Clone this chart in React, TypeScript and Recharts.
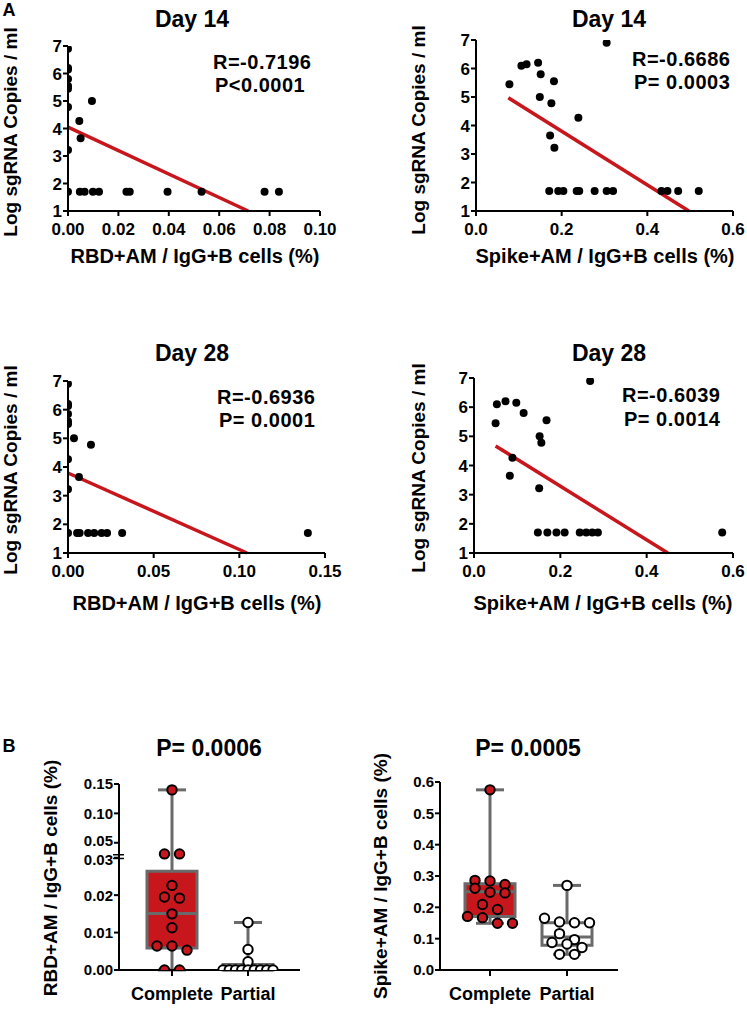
import React from 'react';
import { ScatterChart, ComposedChart, Scatter, XAxis, YAxis, ReferenceLine, ReferenceArea } from 'recharts';

const FONT = '"Liberation Sans", Arial, Helvetica, sans-serif';
const RED = '#c8161d';
const GREY = '#6a6a6a';

// A: log sgRNA vs antigen-specific memory B cells
const logTicks = [1, 2, 3, 4, 5, 6, 7];

const d14RbdX = [0, 0, 0, 0, 0, 0, 0, 0, 0, 0.0045, 0.005, 0.0095, 0.0047, 0.0066, 0.0099, 0.0123, 0.0232, 0.0245, 0.0395, 0.053, 0.078, 0.0837];
const d14RbdY = [6.9, 6.2, 6.15, 5.8, 5.55, 5.45, 4.78, 3.22, 1.7, 4.27, 3.65, 5.0, 1.7, 1.7, 1.7, 1.7, 1.7, 1.7, 1.7, 1.7, 1.7, 1.7];
const d14RbdFit = [{ x: 0, y: 4.05 }, { x: 0.0715, y: 1 }];

const d14SpikeX = [0.078, 0.106, 0.118, 0.145, 0.151, 0.149, 0.176, 0.182, 0.173, 0.183, 0.239, 0.305, 0.171, 0.192, 0.204, 0.235, 0.241, 0.277, 0.305, 0.32, 0.433, 0.447, 0.472, 0.52];
const d14SpikeY = [5.45, 6.1, 6.15, 6.2, 5.8, 5.0, 4.78, 5.55, 3.65, 3.22, 4.27, 6.9, 1.7, 1.7, 1.7, 1.7, 1.7, 1.7, 1.7, 1.7, 1.7, 1.7, 1.7, 1.7];
const d14SpikeFit = [{ x: 0.0754, y: 4.97 }, { x: 0.497, y: 1 }];

const d28RbdX = [0, 0, 0, 0, 0, 0, 0, 0, 0, 0.0035, 0.0134, 0.0064, 0.0053, 0.0068, 0.0117, 0.0153, 0.0196, 0.0228, 0.0316, 0.14];
const d28RbdY = [6.9, 6.2, 6.13, 5.85, 5.6, 5.5, 4.27, 3.22, 1.7, 5.0, 4.78, 3.65, 1.7, 1.7, 1.7, 1.7, 1.7, 1.7, 1.7, 1.7];
const d28RbdFit = [{ x: 0, y: 3.79 }, { x: 0.1045, y: 1 }];

const d28SpikeX = [0.05, 0.053, 0.073, 0.098, 0.115, 0.168, 0.152, 0.156, 0.089, 0.083, 0.151, 0.269, 0.148, 0.17, 0.191, 0.21, 0.245, 0.26, 0.274, 0.287, 0.575];
const d28SpikeY = [5.45, 6.1, 6.2, 6.15, 5.8, 5.55, 5.0, 4.78, 4.27, 3.65, 3.22, 6.9, 1.7, 1.7, 1.7, 1.7, 1.7, 1.7, 1.7, 1.7, 1.7];
const d28SpikeFit = [{ x: 0.05, y: 4.67 }, { x: 0.449, y: 1 }];

// B: complete vs partial protection
const groupNames = ['Complete', 'Partial'];
const rbdComplete = [0.14, 0.031, 0.031, 0.0226, 0.0192, 0.0195, 0.015, 0.0113, 0.0064, 0.0064, 0.0053, 0, 0];
const rbdPartial = [0.0127, 0.0055, 0.0022, 0, 0, 0, 0, 0, 0, 0, 0, 0];
const rbdCompleteBox = { min: 0, q1: 0.0059, med: 0.0151, q3: 0.0264, max: 0.14 };
const rbdPartialBox = { min: 0, q1: 0, med: 0, q3: 0.0015, max: 0.0127 };
const rbdTicks = [0, 0.01, 0.02, 0.03, 0.05, 0.1, 0.15];

const spikeComplete = [0.575, 0.286, 0.284, 0.273, 0.261, 0.248, 0.246, 0.209, 0.193, 0.171, 0.167, 0.149, 0.149];
const spikePartial = [0.27, 0.165, 0.153, 0.151, 0.151, 0.116, 0.097, 0.088, 0.083, 0.072, 0.05, 0.05];
const spikeCompleteBox = { min: 0.149, q1: 0.171, med: 0.25, q3: 0.275, max: 0.575 };
const spikePartialBox = { min: 0.05, q1: 0.079, med: 0.105, q3: 0.151, max: 0.27 };
const spikeTicks = [0, 0.1, 0.2, 0.3, 0.4, 0.5, 0.6];

// broken y axis: 0-0.03 linear, then 0.05-0.15 compressed
const brk = (v: number) => (v <= 0.03 ? v * 100 : 3.4 + ((v - 0.05) / 0.05) * 0.785);
const ident = (v: number) => v;

const axisStyle = { stroke: '#000', strokeWidth: 2 };

const xTick = (fmt: (v: number) => string, size: number) => (p: any) => (
  <text x={p.x} y={p.y} dy="0.72em" textAnchor="middle" fontSize={size} fontWeight={700} fill="#000" fontFamily={FONT}>
    {fmt(p.payload.value)}
  </text>
);
// nudge: pushes a couple of crowded labels (either side of the axis break) apart
const yTick = (fmt: (v: number) => string, size: number, nudge: Record<string, number> = {}) => (p: any) => {
  const s = fmt(p.payload.value);
  return (
    <text x={p.x} y={p.y + (nudge[s] || 0)} dy="0.36em" textAnchor="end" fontSize={size} fontWeight={700} fill="#000" fontFamily={FONT}>
      {s}
    </text>
  );
};

const Txt = ({ x, y, size, children, left, rot, ls }: any) => (
  <div
    style={{
      position: 'absolute', left: x, top: y, fontSize: size, fontWeight: 700, lineHeight: 1, letterSpacing: ls,
      whiteSpace: 'nowrap', transform: left ? 'translate(0,-50%)' : `translate(-50%,-50%)${rot ? ' rotate(-90deg)' : ''}`,
    }}
  >
    {children}
  </div>
);

const blackDot = (p: any) => <circle cx={p.cx} cy={p.cy} r={4} fill="#000" />;

function TopPanel({ xs, ys, fit, xMax, xTicks, dec, plot }: any) {
  const [l, t, r, b] = plot;
  const left = l - 60;
  const top = t - 10;
  const data = xs.map((x: number, i: number) => ({ x, y: ys[i] }));
  return (
    <div style={{ position: 'absolute', left, top }}>
      <ScatterChart width={r - left + 20} height={b - top + 32} margin={{ top: 10, right: 20, left: 0, bottom: 0 }}>
        <XAxis type="number" dataKey="x" domain={[0, xMax]} ticks={xTicks} interval={0} height={32}
          axisLine={axisStyle} tickLine={axisStyle} tickSize={5} tickMargin={7}
          tick={xTick((v) => v.toFixed(dec), 17)} allowDataOverflow />
        <YAxis type="number" dataKey="y" domain={[1, 7]} ticks={logTicks} interval={0} width={60}
          axisLine={axisStyle} tickLine={axisStyle} tickSize={5} tickMargin={1}
          tick={yTick((v) => String(v), 17)} allowDataOverflow />
        <ReferenceLine segment={fit} stroke={RED} strokeWidth={3.5} ifOverflow="visible" />
        <Scatter data={data} shape={blackDot} isAnimationActive={false} />
      </ScatterChart>
    </div>
  );
}

// spread points that sit at about the same height side by side
function swarm(vals: number[], center: number, pxY: number, pxX: number) {
  const order = vals.map((_, i) => i).sort((a, b) => vals[b] - vals[a]);
  const out: number[] = new Array(vals.length);
  let i = 0;
  while (i < order.length) {
    const first = vals[order[i]];
    const grp = [order[i++]];
    while (i < order.length && (first - vals[order[i]]) * pxY < 7) grp.push(order[i++]);
    const n = grp.length;
    const sp = n > 1 ? Math.min(15, 50 / (n - 1)) : 0;
    grp.forEach((k, j) => { out[k] = center + ((j - (n - 1) / 2) * sp) / pxX; });
  }
  return out;
}

function BoxPanel({ groups, boxes, ticks, dec, map, plot, c1, c2, breakMark }: any) {
  const [l, t, r, b] = plot;
  const pxX = c2 - c1;
  const yMax = map(ticks[ticks.length - 1]);
  const pxY = (b - t) / yMax;
  const mTicks = ticks.map(map);
  const left = l - 110;
  const top = t - 10;
  const hw = 25 / pxX;
  const cap = 14 / pxX;
  const series = groups.map((vals: number[], g: number) => {
    const mv = vals.map(map);
    const xs = swarm(mv, g + 1, pxY, pxX);
    return mv.map((y: number, i: number) => ({ x: xs[i], y }));
  });
  const fills = [RED, '#fff'];
  const yLabel = (v: number) => ticks[mTicks.findIndex((m: number) => Math.abs(m - v) < 1e-6)].toFixed(dec);
  const nudge = breakMark != null ? { '0.05': -2.5, '0.03': 2 } : {};
  return (
    <div style={{ position: 'absolute', left, top }}>
      <ComposedChart width={r - left + 10} height={b - top + 45} margin={{ top: 10, right: 10, left: 0, bottom: 0 }}>
        <XAxis type="number" dataKey="x" domain={[1 - (c1 - l) / pxX, 2 + (r - c2) / pxX]} ticks={[1, 2]} interval={0}
          height={45} axisLine={axisStyle} tickLine={axisStyle} tickSize={6} tickMargin={11}
          tick={xTick((v) => groupNames[v - 1], 18)} allowDataOverflow />
        <YAxis type="number" dataKey="y" domain={[0, yMax]} ticks={mTicks} interval={0} width={110}
          axisLine={axisStyle} tickLine={axisStyle} tickSize={5} tickMargin={1} tick={yTick(yLabel, 15, nudge)} allowDataOverflow />
        {breakMark != null && [0, 1].map((k) => (
          <ReferenceLine key={'b' + k} ifOverflow="visible" stroke="#000" strokeWidth={1.5}
            segment={[{ x: 1 - (c1 - l + 6) / pxX, y: breakMark + k * 0.1 }, { x: 1 - (c1 - l - 5) / pxX, y: breakMark + k * 0.1 }]} />
        ))}
        {boxes.map((bx: any, g: number) => {
          const c = g + 1;
          const s = { min: map(bx.min), q1: map(bx.q1), med: map(bx.med), q3: map(bx.q3), max: map(bx.max) };
          return [
            <ReferenceLine key={'w1' + g} segment={[{ x: c, y: s.q3 }, { x: c, y: s.max }]} stroke={GREY} strokeWidth={3} />,
            <ReferenceLine key={'w2' + g} segment={[{ x: c, y: s.min }, { x: c, y: s.q1 }]} stroke={GREY} strokeWidth={3} />,
            <ReferenceLine key={'c1' + g} segment={[{ x: c - cap, y: s.max }, { x: c + cap, y: s.max }]} stroke={GREY} strokeWidth={3} />,
            <ReferenceLine key={'c2' + g} segment={[{ x: c - cap, y: s.min }, { x: c + cap, y: s.min }]} stroke={GREY} strokeWidth={3} />,
            <ReferenceArea key={'bx' + g} x1={c - hw} x2={c + hw} y1={s.q1} y2={s.q3} fill={fills[g]} fillOpacity={1}
              stroke={GREY} strokeWidth={3} />,
            <ReferenceLine key={'m' + g} segment={[{ x: c - hw, y: s.med }, { x: c + hw, y: s.med }]} stroke={GREY} strokeWidth={3} />,
          ];
        })}
        {series.map((d: any[], g: number) => (
          <Scatter key={g} data={d} isAnimationActive={false}
            shape={(p: any) => <circle cx={p.cx} cy={p.cy} r={4.7} fill={fills[g]} stroke="#000" strokeWidth={2} />} />
        ))}
      </ComposedChart>
    </div>
  );
}

export default function App() {
  return (
    <div style={{ position: 'absolute', left: 0, top: 0, width: 747, height: 1031, background: '#fff', fontFamily: FONT, color: '#000' }}>
      <Txt x={9} y={10} size={18}>A</Txt>

      <TopPanel xs={d14RbdX} ys={d14RbdY} fit={d14RbdFit} xMax={0.1} xTicks={[0, 0.02, 0.04, 0.06, 0.08, 0.1]} dec={2} plot={[68, 46, 320, 211]} />
      <TopPanel xs={d14SpikeX} ys={d14SpikeY} fit={d14SpikeFit} xMax={0.6} xTicks={[0, 0.2, 0.4, 0.6]} dec={1} plot={[476, 40, 733, 211]} />
      <TopPanel xs={d28RbdX} ys={d28RbdY} fit={d28RbdFit} xMax={0.15} xTicks={[0, 0.05, 0.1, 0.15]} dec={2} plot={[68, 381, 325, 553]} />
      <TopPanel xs={d28SpikeX} ys={d28SpikeY} fit={d28SpikeFit} xMax={0.6} xTicks={[0, 0.2, 0.4, 0.6]} dec={1} plot={[474, 378, 733, 553]} />

      <Txt x={192} y={19} size={23}>Day 14</Txt>
      <Txt x={609} y={19} size={23}>Day 14</Txt>
      <Txt x={192} y={353} size={23}>Day 28</Txt>
      <Txt x={609} y={353} size={23}>Day 28</Txt>

      <Txt x={213} y={62} size={20} ls={0.5} left>R=-0.7196</Txt>
      <Txt x={215} y={85} size={20} ls={0.5} left>P&lt;0.0001</Txt>
      <Txt x={632} y={59} size={20} ls={0.5} left>R=-0.6686</Txt>
      <Txt x={634} y={82} size={20} ls={0.5} left>P= 0.0003</Txt>
      <Txt x={217} y={397} size={20} ls={0.5} left>R=-0.6936</Txt>
      <Txt x={219} y={420} size={20} ls={0.5} left>P= 0.0001</Txt>
      <Txt x={622} y={395} size={20} ls={0.5} left>R=-0.6039</Txt>
      <Txt x={624} y={419} size={20} ls={0.5} left>P= 0.0014</Txt>

      <Txt x={195} y={256} size={20}>RBD+AM / IgG+B cells (%)</Txt>
      <Txt x={605} y={256} size={20}>Spike+AM / IgG+B cells (%)</Txt>
      <Txt x={197} y={603} size={20}>RBD+AM / IgG+B cells (%)</Txt>
      <Txt x={603} y={603} size={20}>Spike+AM / IgG+B cells (%)</Txt>

      <Txt x={10} y={132} size={19} rot>Log sgRNA Copies / ml</Txt>
      <Txt x={418} y={130} size={19} rot>Log sgRNA Copies / ml</Txt>
      <Txt x={10} y={470} size={19} rot>Log sgRNA Copies / ml</Txt>
      <Txt x={418} y={468} size={19} rot>Log sgRNA Copies / ml</Txt>

      <Txt x={9} y={746} size={18}>B</Txt>
      <BoxPanel groups={[rbdComplete, rbdPartial]} boxes={[rbdCompleteBox, rbdPartialBox]} ticks={rbdTicks} dec={2} map={brk}
        plot={[119, 784, 300, 970]} c1={172} c2={248} breakMark={2.98} />
      <BoxPanel groups={[spikeComplete, spikePartial]} boxes={[spikeCompleteBox, spikePartialBox]} ticks={spikeTicks} dec={1} map={ident}
        plot={[440, 782, 618, 970]} c1={490} c2={567} />

      <Txt x={209} y={748} size={23}>P= 0.0006</Txt>
      <Txt x={528} y={748} size={23}>P= 0.0005</Txt>
      <Txt x={50} y={878} size={19} rot>RBD+AM / IgG+B cells (%)</Txt>
      <Txt x={380} y={876} size={19} rot>Spike+AM / IgG+B cells (%)</Txt>
    </div>
  );
}
